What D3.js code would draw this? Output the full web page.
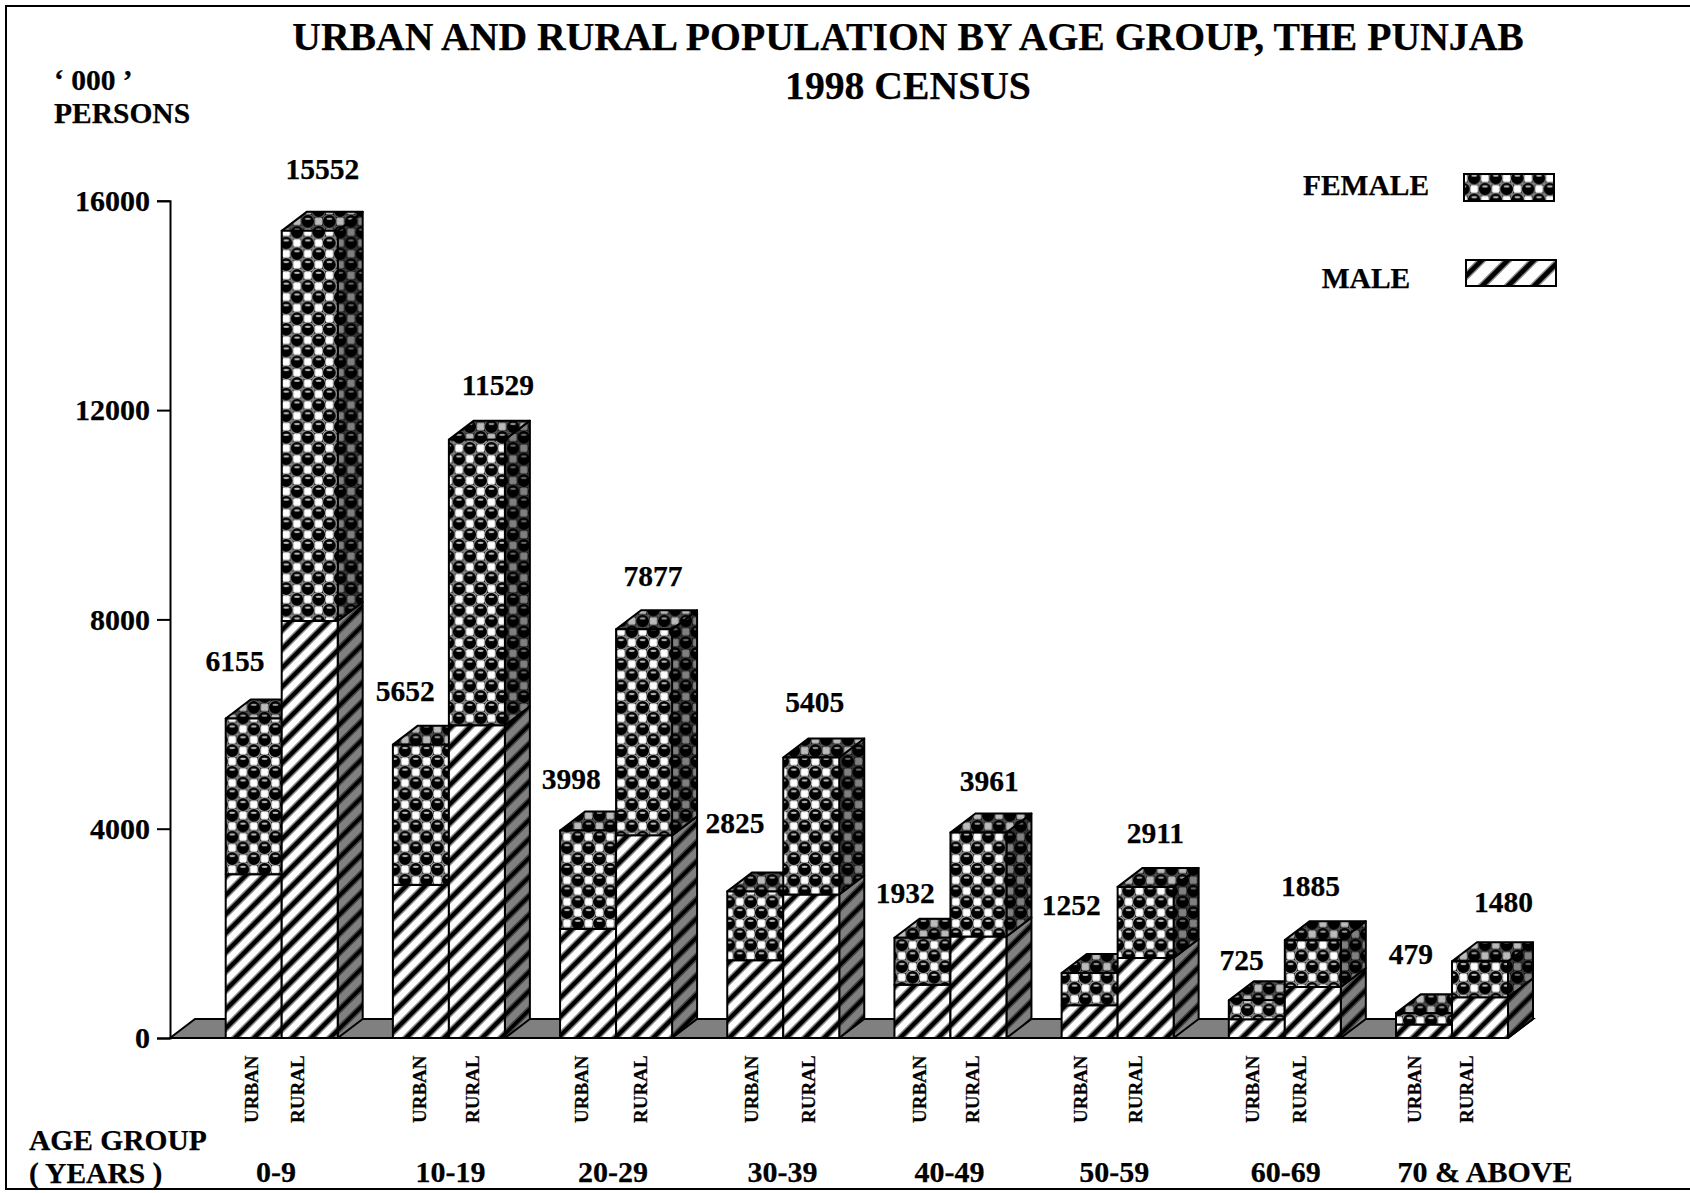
<!DOCTYPE html>
<html><head><meta charset="utf-8">
<script src="https://cdn.jsdelivr.net/npm/d3@7/dist/d3.min.js"></script>
<style>
html,body{margin:0;padding:0;background:#fff;overflow:hidden}
text{font-family:"Liberation Serif",serif;font-weight:bold;fill:#000;stroke:#000;stroke-width:.25px}
</style></head><body>
<svg id="c" width="1690" height="1193"></svg>
<script>
// ---- data ----
const ageGroups  = ["0-9","10-19","20-29","30-39","40-49","50-59","60-69","70 & ABOVE"];
const areas      = ["URBAN","RURAL"];
const urbanTotal = [6155,5652,3998,2825,1932,1252,725,479];
const ruralTotal = [15552,11529,7877,5405,3961,2911,1885,1480];
const urbanMale  = [3155,2950,2100,1500,1025,630,362,262];
const ruralMale  = [8035,6025,3905,2765,1955,1540,982,785];
const yTicks     = [0,4000,8000,12000,16000];

// ---- hand placement of labels (px offsets, layout only) ----
const urbanLabelDx = [-18.7,-15.6,-16.9,-20.3,-17.2,-18.4,-15.3,-13.2];
const urbanLabelDy = [-47.8,-43.8,-41.3,-58.2,-34.6,-58,-30.3,-49.6];
const ruralLabelDx = [12.6,21,9,3.5,10.9,9.7,-2.3,23.4];
const ruralLabelDy = [-52.2,-44.5,-43.6,-45.9,-41.2,-44,-44.4,-49.3];
const urbanTagDx   = [4.3,5.1,0,2.7,3.5,-2.7,2.6,-3];
const ruralTagDx   = [-6.2,2.1,2.9,4.1,.5,-3.7,-6.9,-7.1];
const groupLabelDx = [50.3,57.6,52.9,55.2,55,52.7,56.9,88.9];

const svg = d3.select("#c");
const barW = 56, depthX = 25, depthY = 19, base = 1038;
const x = d3.scalePoint().domain(ageGroups).range([225.7,1396]);
const yAxisScale = d3.scaleLinear().domain([0,16000]).range([base,200.8]);
const y = d3.scaleLinear().domain([0,16000]).range([base,207.6]);

// ---- fill patterns ----
const defs = svg.append("defs");
function balls(id,bg,square,ring,hi){
  const p = defs.append("pattern").attr("id",id).attr("patternUnits","userSpaceOnUse")
    .attr("width",21.6).attr("height",21.6);
  p.append("rect").attr("width",21.6).attr("height",21.6).attr("fill",bg);
  [[16.2,5.4],[5.4,16.2]].forEach(([a,b])=>p.append("rect").attr("x",a-3.4).attr("y",b-3.4)
    .attr("width",6.8).attr("height",6.8).attr("fill",square));
  [[5.4,5.4],[16.2,16.2],[27,5.4],[-5.4,16.2],[5.4,27],[16.2,-5.4]].forEach(([a,b])=>{
    p.append("circle").attr("cx",a).attr("cy",b).attr("r",7).attr("fill","#000")
      .attr("stroke",ring).attr("stroke-width",1.2);
    p.append("ellipse").attr("cx",a).attr("cy",b-2.6).attr("rx",3).attr("ry",1.2).attr("fill",hi);
  });
}
function hatch(id,bg,soft,W,H,core){
  const p = defs.append("pattern").attr("id",id).attr("patternUnits","userSpaceOnUse")
    .attr("width",W).attr("height",H);
  p.append("rect").attr("width",W).attr("height",H).attr("fill",bg);
  const d=`M${-W},${2*H}L${2*W},${-H}M${-W},${H}L${W},${-H}M0,${2*H}L${2*W},0`;
  p.append("path").attr("d",d).attr("stroke",soft).attr("stroke-width",core+3).attr("fill","none");
  p.append("path").attr("d",d).attr("stroke","#000").attr("stroke-width",core).attr("fill","none");
}
balls("fFront","#000","#fff","#aaa","#bbb");
balls("fTop","#000","#bbb","#666","#999");
balls("fSide","#000","#808080","#444","#666");
hatch("mFront","#fff","#888",19,19,4.2);
hatch("mSide","#808080","#444",19,19,3.6);
hatch("mLegend","#fff","#888",26,26,4.6);

// ---- frame ----
svg.append("rect").attr("x",6).attr("y",6).attr("width",1700).attr("height",1183)
  .attr("fill","none").attr("stroke","#000").attr("stroke-width",2);

// ---- floor ----
const floorRight = x(ageGroups[ageGroups.length-1]) + 2*barW;
svg.append("path")
  .attr("d",d3.line()([[x.range()[0]-55.7,base],[x.range()[0]-55.7+depthX,base-depthY],[floorRight+depthX,base-depthY],[floorRight,base]])+"Z")
  .attr("fill","#808080").attr("stroke","#000").attr("stroke-width",2);

// ---- axis ----
const axis = d3.axisLeft(yAxisScale).tickValues(yTicks).tickSize(13).tickPadding(7).tickFormat(d3.format("d"));
const gA = svg.append("g").attr("transform","translate(170,0)").call(axis);
gA.selectAll("path,line").attr("stroke","#000").attr("stroke-width",2);
gA.selectAll("text").style("font-size","30px").style("font-family",'"Liberation Serif",serif').style("font-weight","bold");

// ---- bars ----
function segment(g,left,v0,v1,front,top,side){
  const yb=y(v0), yt=y(v1), r=left+barW;
  g.append("path").attr("d",d3.line()([[r,yb],[r+depthX,yb-depthY],[r+depthX,yt-depthY],[r,yt]])+"Z").attr("fill",`url(#${side})`);
  if(top) g.append("path").attr("d",d3.line()([[left,yt],[left+depthX,yt-depthY],[r+depthX,yt-depthY],[r,yt]])+"Z").attr("fill",`url(#${top})`);
  g.append("rect").attr("x",left).attr("y",yt).attr("width",barW).attr("height",yb-yt).attr("fill",`url(#${front})`);
}
const groups = svg.selectAll("g.group").data(ageGroups).join("g").attr("class","group")
  .attr("stroke","#000").attr("stroke-width",2).attr("stroke-linejoin","round");
groups.each(function(a,i){
  const g=d3.select(this), x0=x(a);
  [[urbanMale[i],urbanTotal[i],x0],[ruralMale[i],ruralTotal[i],x0+barW]].forEach(([m,t,l])=>{
    segment(g,l,0,m,"mFront",null,"mSide");
    segment(g,l,m,t,"fFront","fTop","fSide");
  });
});

// ---- value labels ----
const lab = svg.append("g").style("font-size","29.5px").attr("text-anchor","middle");
ageGroups.forEach((a,i)=>{
  lab.append("text").attr("x",x(a)+barW/2+urbanLabelDx[i]).attr("y",y(urbanTotal[i])+urbanLabelDy[i]).text(urbanTotal[i]);
  lab.append("text").attr("x",x(a)+barW*1.5+ruralLabelDx[i]).attr("y",y(ruralTotal[i])+ruralLabelDy[i]).text(ruralTotal[i]);
  lab.append("text").attr("x",x(a)+groupLabelDx[i]).attr("y",1182).style("font-size","30px").text(a);
  [[urbanTagDx,0.5,areas[0]],[ruralTagDx,1.5,areas[1]]].forEach(([dx,k,t])=>{
    const px=x(a)+barW*k+dx[i];
    svg.append("text").attr("transform",`translate(${px},1123) rotate(-90)`).style("font-size","19px").text(t);
  });
});

// ---- titles ----
const T=(s,xx,yy,fs,anchor)=>svg.append("text").attr("x",xx).attr("y",yy).style("font-size",fs+"px").attr("text-anchor",anchor||"start").text(s);
T("URBAN AND RURAL POPULATION BY AGE GROUP, THE PUNJAB",908,50,39.7,"middle");
T("1998 CENSUS",908,99,39.7,"middle");
T("‘ 000 ’",54,90,29.5);
T("PERSONS",54,123,29.5);
T("AGE GROUP",29,1150,29.5);
T("( YEARS )",29,1183,29.5);

// ---- legend ----
T("FEMALE",1366,195,29.5,"middle");
T("MALE",1366,288,29.5,"middle");
svg.append("rect").attr("x",1464).attr("y",174).attr("width",90).attr("height",27).attr("fill","url(#fFront)").attr("stroke","#000").attr("stroke-width",2);
svg.append("rect").attr("x",1466).attr("y",260).attr("width",90).attr("height",26).attr("fill","url(#mLegend)").attr("stroke","#000").attr("stroke-width",2);
</script>
</body></html>
